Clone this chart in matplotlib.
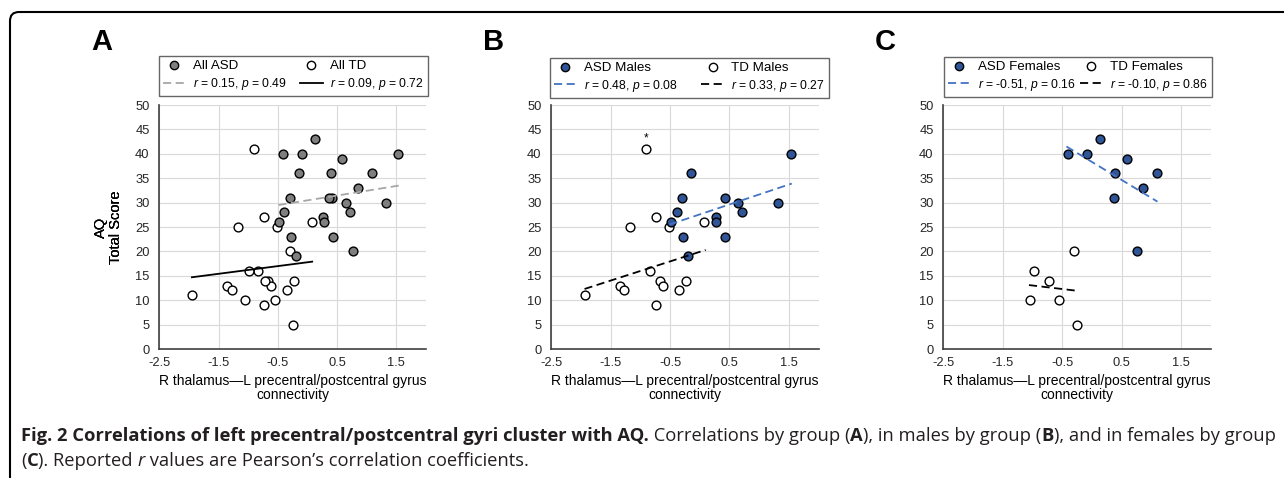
import matplotlib
matplotlib.use("Agg")
import matplotlib.pyplot as plt
from matplotlib.lines import Line2D
from matplotlib.patches import FancyBboxPatch

# ---------------- data ----------------
asd_m_x = [1.53, -0.14, -0.30, 0.42, 0.65, 1.32, -0.39, 0.72, 0.27, 0.28, -0.48, -0.28, 0.43, -0.20]
asd_m_y = [40, 36, 31, 31, 30, 30, 28, 28, 27, 26, 26, 23, 23, 19]
td_m_x = [-0.91, -0.74, -1.18, -0.51, 0.08, -0.84, -0.67, -0.23, -1.35, -0.62, -1.28, -0.35, -1.94, -0.74]
td_m_y = [41, 27, 25, 25, 26, 16, 14, 14, 13, 13, 12, 12, 11, 9]
asd_f_x = [-0.41, -0.09, 0.13, 0.59, 0.39, 1.09, 0.86, 0.37, 0.76]
asd_f_y = [40, 40, 43, 39, 36, 36, 33, 31, 20]
td_f_x = [-0.30, -0.98, -0.72, -1.05, -0.55, -0.25]
td_f_y = [20, 16, 14, 10, 10, 5]

# trend line end points (x, y)
trend_a_asd_x, trend_a_asd_y = [-0.49, 1.55], [29.5, 33.5]
trend_a_td_x, trend_a_td_y = [-1.95, 0.08], [14.7, 17.9]
trend_b_asd_x, trend_b_asd_y = [-0.51, 1.55], [25.5, 33.9]
trend_b_td_x, trend_b_td_y = [-1.94, 0.10], [12.3, 20.3]
trend_c_asd_x, trend_c_asd_y = [-0.43, 1.10], [41.5, 30.2]
trend_c_td_x, trend_c_td_y = [-1.06, -0.23], [13.1, 11.9]

x_ticks = [-2.5, -1.5, -0.5, 0.5, 1.5]
x_tick_labels = ["-2.5", "-1.5", "-0.5", "0.5", "1.5"]
y_ticks = [0, 5, 10, 15, 20, 25, 30, 35, 40, 45, 50]

panel_letters = ["A", "B", "C"]
group_labels = [("All ASD", "All TD"), ("ASD Males", "TD Males"), ("ASD Females", "TD Females")]
stat_labels = [(("0.15", "0.49"), ("0.09", "0.72")),
               (("0.48", "0.08"), ("0.33", "0.27")),
               (("-0.51", "0.16"), ("-0.10", "0.86"))]
x_label = "R thalamus\u2014L precentral/postcentral gyrus\nconnectivity"
y_label = "AQ\nTotal Score"

# ---------------- style ----------------
plt.rcParams["font.family"] = ["Liberation Sans", "DejaVu Sans"]
plt.rcParams["mathtext.fontset"] = "custom"
plt.rcParams["mathtext.it"] = "Liberation Sans:italic"
plt.rcParams["mathtext.rm"] = "Liberation Sans"

W, H = 1284, 478
fig = plt.figure(figsize=(W / 100, H / 100), dpi=100)

GRAY_FILL = "#7f7f7f"
BLUE_FILL = "#2f5597"
BLUE_LINE = "#4472c4"
GRAY_LINE = "#a6a6a6"
DASH = (0, (4.5, 2.5))

ax_left_px = [159.3, 551.3, 943.3]
ax_right_px = [426.0, 818.5, 1211.0]
ax_top_px, ax_bot_px = 105.0, 349.0
legend_px = [(158.7, 427.7, 59.3, 96.0), (550.0, 829.0, 61.7, 97.7), (944.0, 1212.0, 61.7, 96.7)]

panels = [
    dict(asd=(asd_m_x + asd_f_x, asd_m_y + asd_f_y), td=(td_m_x + td_f_x, td_m_y + td_f_y),
         fill=GRAY_FILL, la=(trend_a_asd_x, trend_a_asd_y), lt=(trend_a_td_x, trend_a_td_y),
         lac=GRAY_LINE, las=DASH, ltc="black", lts="-"),
    dict(asd=(asd_m_x, asd_m_y), td=(td_m_x, td_m_y),
         fill=BLUE_FILL, la=(trend_b_asd_x, trend_b_asd_y), lt=(trend_b_td_x, trend_b_td_y),
         lac=BLUE_LINE, las=DASH, ltc="black", lts=DASH),
    dict(asd=(asd_f_x, asd_f_y), td=(td_f_x, td_f_y),
         fill=BLUE_FILL, la=(trend_c_asd_x, trend_c_asd_y), lt=(trend_c_td_x, trend_c_td_y),
         lac=BLUE_LINE, las=DASH, ltc="black", lts=DASH),
]

for i, p in enumerate(panels):
    l, r = ax_left_px[i], ax_right_px[i]
    ax = fig.add_axes([l / W, 1 - ax_bot_px / H, (r - l) / W, (ax_bot_px - ax_top_px) / H])
    axw = r - l
    axh = ax_bot_px - ax_top_px
    ax.set_xlim(-2.5, 2.0)
    ax.set_ylim(0, 50)
    ax.set_xticks(x_ticks)
    ax.set_xticklabels(x_tick_labels)
    ax.set_yticks(y_ticks)
    ax.grid(True, color="#d9d9d9", lw=0.8)
    ax.set_axisbelow(True)
    for s in ["top", "right"]:
        ax.spines[s].set_visible(False)
    for s in ["left", "bottom"]:
        ax.spines[s].set_color("#404040")
        ax.spines[s].set_linewidth(1.2)
    ax.tick_params(length=0, labelsize=9.3, labelcolor="#262626")
    ax.tick_params(axis="x", pad=6)
    ax.tick_params(axis="y", pad=7)

    ax.scatter(*p["td"], s=40, facecolor="white", edgecolor="black", linewidths=1.0, zorder=3)
    ax.scatter(*p["asd"], s=40, facecolor=p["fill"], edgecolor="black", linewidths=1.0, zorder=3)
    ax.plot(*p["la"], color=p["lac"], ls=p["las"], lw=1.3, zorder=4)
    ax.plot(*p["lt"], color=p["ltc"], ls=p["lts"], lw=1.3, zorder=4)

    if i == 1:
        ax.annotate("*", (td_m_x[0], td_m_y[0]), xytext=(0, 3), textcoords="offset points",
                    ha="center", va="bottom", fontsize=8.5)

    ax.set_xlabel(x_label, fontsize=10, labelpad=3, linespacing=1.0)
    ax.set_ylabel(y_label, fontsize=10.5, linespacing=1.08)
    ax.yaxis.set_label_coords((123 - l) / axw, 0.5)

    # legend
    (g1, g2) = group_labels[i]
    (r1, p1), (r2, p2) = stat_labels[i]
    h_asd = Line2D([], [], marker="o", ls="none", markersize=6, markerfacecolor=p["fill"],
                   markeredgecolor="black", markeredgewidth=1.0)
    h_td = Line2D([], [], marker="o", ls="none", markersize=6, markerfacecolor="white",
                  markeredgecolor="black", markeredgewidth=1.0)
    h_la = Line2D([], [], color=p["lac"], ls=p["las"], lw=1.3)
    h_lt = Line2D([], [], color=p["ltc"], ls=p["lts"], lw=1.3)
    t1 = r"$\mathit{r}$ = " + r1 + r", $\mathit{p}$ = " + p1
    t2 = r"$\mathit{r}$ = " + r2 + r", $\mathit{p}$ = " + p2
    lx0, lx1, ly0, ly1 = legend_px[i]
    leg = ax.legend([h_asd, h_la, h_td, h_lt], [g1, t1, g2, t2], ncol=2,
                    loc="lower left", mode="expand",
                    bbox_to_anchor=((lx0 - l) / axw, (ax_bot_px - ly1) / axh,
                                    (lx1 - lx0) / axw, (ly1 - ly0) / axh),
                    borderaxespad=0, fontsize=8.7, frameon=True, fancybox=False,
                    edgecolor="#404040", handlelength=1.9, handletextpad=0.6,
                    labelspacing=0.3, borderpad=0.33, columnspacing=0.8)
    leg.get_frame().set_linewidth(1.0)
    texts = leg.get_texts()
    texts[0].set_fontsize(9.6)
    texts[2].set_fontsize(9.6)

    fig.text((l - 58) / W, 1 - 42 / H, panel_letters[i], fontsize=21, weight="bold",
             ha="center", va="center")

# ---------------- border ----------------
border = FancyBboxPatch((0.10, -0.5), 14.0, 4.66 + 0.5,
                        boxstyle="round,pad=0,rounding_size=0.09",
                        transform=fig.dpi_scale_trans, fill=False, edgecolor="black",
                        linewidth=1.5, clip_on=False)
fig.add_artist(border)

# ---------------- caption ----------------
renderer = fig.canvas.get_renderer()
CAP_FAMILY = ["Open Sans", "DejaVu Sans"]
CAP_COLOR = "#231f20"


def piece_width(txt, size, weight, style):
    t1 = fig.text(0, 0, "|" + txt + "|", fontsize=size, weight=weight, style=style, family=CAP_FAMILY)
    t2 = fig.text(0, 0, "||", fontsize=size, weight=weight, style=style, family=CAP_FAMILY)
    w = t1.get_window_extent(renderer).width - t2.get_window_extent(renderer).width
    t1.remove()
    t2.remove()
    return w


def draw_line(pieces, x0_px, base_px, size):
    x = x0_px
    for txt, weight, style in pieces:
        fig.text(x / W, 1 - base_px / H, txt, fontsize=size, weight=weight, style=style,
                 family=CAP_FAMILY, ha="left", va="baseline", color=CAP_COLOR)
        x += piece_width(txt, size, weight, style)


line1 = [("Fig. 2 Correlations of left precentral/postcentral gyri cluster with AQ.", "bold", "normal"),
         (" Correlations by group (", "normal", "normal"),
         ("A", "bold", "normal"),
         ("), in males by group (", "normal", "normal"),
         ("B", "bold", "normal"),
         ("), and in females by group", "normal", "normal")]
line2 = [("(", "normal", "normal"),
         ("C", "bold", "normal"),
         ("). Reported ", "normal", "normal"),
         ("r", "normal", "italic"),
         (" values are Pearson\u2019s correlation coefficients.", "normal", "normal")]

base_size = 10.0
w_line1 = sum(piece_width(t, base_size, wt, st) for t, wt, st in line1)
cap_size = base_size * (1254.0 / w_line1)

draw_line(line1, 21, 441, cap_size)
draw_line(line2, 21, 466, cap_size)

fig.savefig("out.png", dpi=100)
